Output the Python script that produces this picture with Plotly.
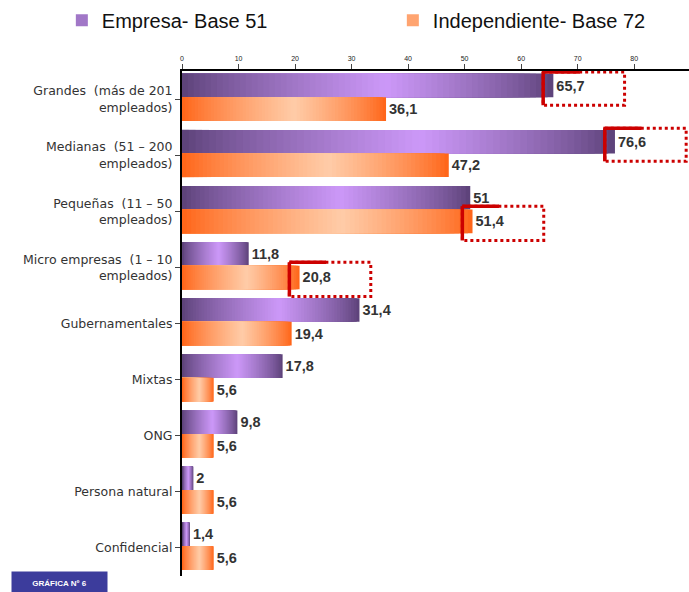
import plotly.graph_objects as go

categories = [
    "Grandes  (más de 201<br>empleados)",
    "Medianas  (51 – 200<br>empleados)",
    "Pequeñas  (11 – 50<br>empleados)",
    "Micro empresas  (1 – 10<br>empleados)",
    "Gubernamentales",
    "Mixtas",
    "ONG",
    "Persona natural",
    "Confidencial",
]
empresa = [65.7, 76.6, 51, 11.8, 31.4, 17.8, 9.8, 2, 1.4]
independiente = [36.1, 47.2, 51.4, 20.8, 19.4, 5.6, 5.6, 5.6, 5.6]
series_names = ["Empresa- Base 51", "Independiente- Base 72"]
x_ticks = [0, 10, 20, 30, 40, 50, 60, 70, 80, 90]
# highlighted (category index, series index)
highlights = [(0, 0), (1, 0), (2, 1), (3, 1)]

def lerp(c1, c2, t):
    return tuple(int(round(a + (b - a) * t)) for a, b in zip(c1, c2))

def grad(dark, light, t):
    # dark at both ends, light in middle
    if t < 0.55:
        u = t / 0.55
    else:
        u = (1 - t) / 0.45
    u = max(0.0, min(1.0, u)) ** 0.8
    r, g, b = lerp(dark, light, u)
    return f"rgb({r},{g},{b})"

styles = [
    dict(dark=(90, 64, 118), light=(204, 152, 248), offset=-0.45, width=0.42, lw=286),
    dict(dark=(255, 98, 20), light=(255, 204, 168), offset=-0.03, width=0.42, lw=240),
]

def fmt(v):
    s = f"{v:g}"
    return s.replace(".", ",")

N = 64
fig = go.Figure()
for si, vals in enumerate([empresa, independiente]):
    st = styles[si]
    for k in range(N - 1, -1, -1):
        frac = (k + 1) / N
        t = (k + 0.5) / N
        first = (k == N - 1)
        fig.add_trace(go.Bar(
            y=list(range(len(categories))),
            x=[v * frac for v in vals],
            orientation="h",
            marker=dict(color=grad(st["dark"], st["light"], t), line=dict(width=0)),
            offset=st["offset"], width=st["width"],
            text=[fmt(v) for v in vals] if first else None,
            textposition="outside" if first else None,
            textfont=dict(family="Liberation Sans, Arial", size=14.5, color="#333333", weight="bold"),
            constraintext="none",
            cliponaxis=False,
            name=series_names[si],
            showlegend=(k == int(N * 0.3)),
            legendwidth=st["lw"],
            legendgroup=series_names[si],
            hoverinfo="skip",
        ))

shapes = []
for ci, si in highlights:
    v = [empresa, independiente][si][ci]
    if si == 0:
        y0, y1 = ci - 0.48, ci + 0.11
    else:
        y0, y1 = ci - 0.09, ci + 0.52
    x0, x1 = v - 1.8, v + 12.6
    shapes.append(dict(type="rect", xref="x", yref="y", x0=x0, x1=x1, y0=y0, y1=y1,
                       line=dict(color="#cc0000", width=3, dash="dot")))
    shapes.append(dict(type="line", xref="x", yref="y", x0=x0, x1=x0, y0=y0, y1=y1,
                       line=dict(color="#cc0000", width=3.5)))
    shapes.append(dict(type="line", xref="x", yref="y", x0=x0, x1=x0 + (x1 - x0) * 0.45, y0=y0, y1=y0,
                       line=dict(color="#cc0000", width=3.5)))

fig.update_layout(
    width=689, height=592,
    margin=dict(l=182, r=0, t=71, b=16),
    paper_bgcolor="white", plot_bgcolor="white",
    barmode="overlay",
    font=dict(family="Liberation Sans, Arial", color="#222222"),
    showlegend=True,
    legend=dict(orientation="h", x=-0.237, xanchor="left", y=1.139, yanchor="top",
                font=dict(size=20, color="#111111"), entrywidthmode="pixels",
                traceorder="normal"),
    shapes=shapes,
    annotations=[dict(text="<b>GRÁFICA Nº 6</b>", xref="paper", yref="paper",
                      x=(11 - 182) / 507, y=-0.037, xanchor="left", yanchor="bottom",
                      showarrow=False, bgcolor="#3c3c9c", width=93, height=20,
                      font=dict(size=8, color="white"))],
)
fig.update_xaxes(side="top", range=[0, 89.7], tickvals=x_ticks, ticks="outside", ticklen=5,
                 tickfont=dict(size=7, color="#222"), showline=True, linecolor="black",
                 linewidth=1.5, showgrid=False, zeroline=False, fixedrange=True)
fig.update_yaxes(tickvals=list(range(len(categories))), ticktext=categories,
                 range=[len(categories) - 0.5, -0.5], ticks="outside", ticklen=5,
                 tickfont=dict(family="DejaVu Sans", size=12.5, color="#333"), showline=True,
                 linecolor="black", linewidth=2, showgrid=False, zeroline=False)

fig.write_html("out.html")
